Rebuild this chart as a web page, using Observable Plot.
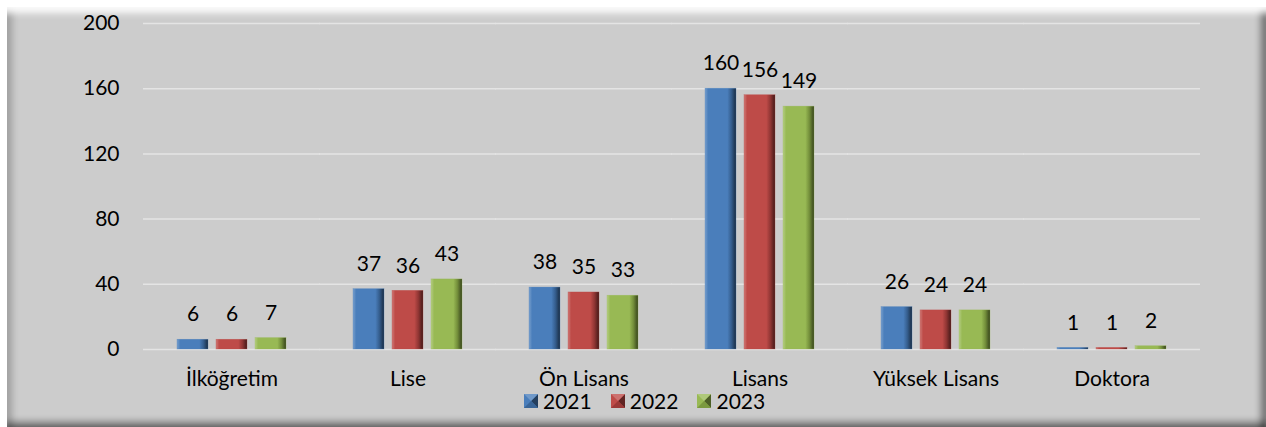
<!DOCTYPE html>
<html>
<head>
<meta charset="utf-8">
<script src="https://cdn.jsdelivr.net/npm/d3@7"></script>
<script src="https://cdn.jsdelivr.net/npm/@observablehq/plot@0.6"></script>
<style>
  html, body { margin: 0; padding: 0; background: #ffffff; }
  #wrap { position: relative; width: 1266px; height: 427px; overflow: hidden; font-family: Lato, "Open Sans", sans-serif; }
  #frame {
    position: absolute; left: 7px; top: 7px; width: 1259px; height: 420px;
    background: #cccccc;
    box-shadow:
      inset 0 10px 7px -4px rgba(255,255,255,0.95),
      inset 9px 0 7px -4px rgba(0,0,0,0.22),
      inset -9px 0 7px -4px rgba(0,0,0,0.45),
      inset 0 -9px 7px -4px rgba(0,0,0,0.45);
  }
  #chart { position: absolute; left: 0; top: 0; }
  #legend { position: absolute; left: 524px; top: 388px; display: flex; align-items: center; font-size: 21px; color: #000; font-family: Lato, "Open Sans", sans-serif; }
  #legend .item { display: flex; align-items: center; margin-right: 19px; }
  #legend .sw { width: 14px; height: 14px; margin-right: 5px; }
</style>
</head>
<body>
<div id="wrap">
  <div id="frame"></div>
  <div id="chart"></div>
  <div id="legend"></div>
</div>
<script>
const categories = ["İlköğretim", "Lise", "Ön Lisans", "Lisans", "Yüksek Lisans", "Doktora"];
const years = ["2021", "2022", "2023"];
const values2021 = [6, 37, 38, 160, 26, 1];
const values2022 = [6, 36, 35, 156, 24, 1];
const values2023 = [7, 43, 33, 149, 24, 2];
const yTicks = [0, 40, 80, 120, 160, 200];
const colors = ["#4a7ebb", "#be4b48", "#98b954"];

const seriesValues = [values2021, values2022, values2023];
const data = [];
categories.forEach((c, i) => {
  years.forEach((y, j) => data.push({category: c, year: y, value: seriesValues[j][i]}));
});
const gradIds = {"2021": "url(#g2021)", "2022": "url(#g2022)", "2023": "url(#g2023)"};

const plot = Plot.plot({
  width: 1266,
  height: 427,
  marginLeft: 143,
  marginRight: 66,
  marginTop: 23,
  marginBottom: 78,
  style: { background: "transparent", fontFamily: "Lato, 'Open Sans', sans-serif", fontSize: "21px", color: "#000" },
  fx: { domain: categories, paddingInner: 0.38, paddingOuter: 0.19, label: null },
  x: { domain: years, paddingInner: 0.21, paddingOuter: 0, axis: null },
  y: { domain: [0, 200], label: null },
  color: { domain: years, range: colors },
  marks: [
    Plot.gridY(yTicks, { stroke: "#e4e4e4", strokeOpacity: 1, strokeWidth: 1.5, insetLeft: -34, insetRight: -34 }),
    Plot.axisY(yTicks, { tickSize: 0, tickPadding: 58, fontSize: 21, fontWeight: "normal" }),
    Plot.axisFx({ anchor: "bottom", tickSize: 0, tickPadding: 22, fontSize: 21, fontWeight: "normal", label: null }),
    Plot.barY(data, { fx: "category", x: "year", y: "value", fill: d => gradIds[d.year], stroke: d => d.year, strokeOpacity: 0.6, strokeWidth: 0.5 }),
    Plot.text(data, { fx: "category", x: "year", y: "value", text: d => String(d.value), dy: -25, fontSize: 21, fontWeight: "normal", fill: "#000" })
  ]
});

// bevel gradients for bars
const svg = d3.select(plot);
const defs = svg.insert("defs", ":first-child");
function shade(c, k) { const h = d3.hsl(c); h.l = Math.max(0, Math.min(1, h.l * k)); return h.formatHex(); }
years.forEach((y, i) => {
  const g = defs.append("linearGradient").attr("id", "g" + y).attr("x1", "0").attr("x2", "1").attr("y1", "0").attr("y2", "0");
  const c = colors[i];
  [[0, shade(c, 1.25)], [0.1, c], [0.72, c], [0.85, shade(c, 0.75)], [1, shade(c, 0.35)]].forEach(([o, col]) => {
    g.append("stop").attr("offset", o).attr("stop-color", col);
  });
});
document.getElementById("chart").appendChild(plot);

// legend
const legend = d3.select("#legend");
years.forEach((y, i) => {
  const item = legend.append("div").attr("class", "item");
  const sw = item.append("svg").attr("class", "sw").attr("width", 14).attr("height", 14);
  const c = colors[i];
  sw.append("rect").attr("width", 14).attr("height", 14).attr("fill", c);
  sw.append("polygon").attr("points", "14,0 14,14 7,7").attr("fill", shade(c, 0.5));
  sw.append("polygon").attr("points", "0,14 14,14 7,7").attr("fill", shade(c, 0.8));
  sw.append("polygon").attr("points", "0,0 14,0 7,7").attr("fill", shade(c, 1.2));
  item.append("span").text(y);
});
</script>
</body>
</html>
